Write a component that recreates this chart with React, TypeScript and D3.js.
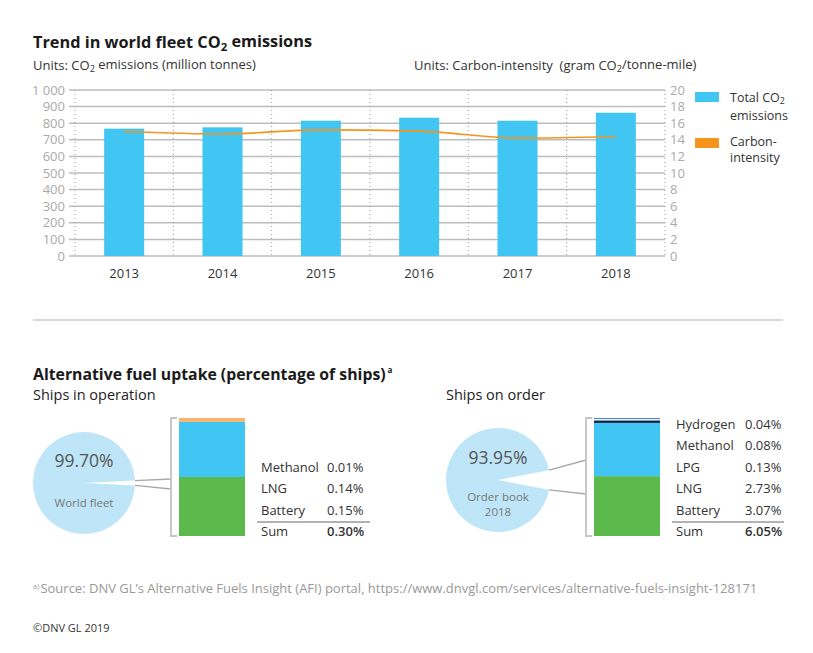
import * as d3 from "d3";

const years = ["2013", "2014", "2015", "2016", "2017", "2018"];
const emissions = [767, 775, 815, 833, 815, 863];
const intensity = [15.0, 14.7, 15.2, 15.05, 14.2, 14.4];
const leftTicks = [0, 100, 200, 300, 400, 500, 600, 700, 800, 900, 1000];
const rightTicks = [0, 2, 4, 6, 8, 10, 12, 14, 16, 18, 20];

const opFuels = ["Methanol", "LNG", "Battery"];
const opShares = [0.01, 0.14, 0.15];
const opColors = ["#f9b46e", "#41c5f2", "#5cb94c"];
const opWorld = 99.7;

const orderFuels = ["Hydrogen", "Methanol", "LPG", "LNG", "Battery"];
const orderShares = [0.04, 0.08, 0.13, 2.73, 3.07];
const orderColors = ["#1b63b5", "#eef6fb", "#0e1f4c", "#41c5f2", "#5cb94c"];
const orderBook = 93.95;

const FONT = "'Open Sans', Lato, sans-serif";
const BLUE = "#41c5f2";
const ORANGE = "#f7941d";
const PIE = "#bfe6f8";
const GRID = "#bdbdbd";

const fmt = d3.formatLocale({ decimal: ".", thousands: " ", grouping: [3], currency: ["", ""] }).format(",d");

function Sub({ children }: { children: string }) {
  return (
    <tspan fontSize="0.7em" dy="0.25em">
      {children}
    </tspan>
  );
}

type PanelProps = {
  cx: number;
  cy: number;
  r: number;
  main: number;
  mainLabel: string[];
  fuels: string[];
  shares: number[];
  colors: string[];
  barX: number;
  valueX: number;
  lineEnd: number;
  attach: [number, number];
  minGap: number;
};

function FuelPanel({ cx, cy, r, main, mainLabel, fuels, shares, colors, barX, valueX, lineEnd, attach, minGap }: PanelProps) {
  const total = d3.sum(shares);
  const barTop = 418;
  const barBottom = 536;
  const barW = 66;
  const ys = d3.scaleLinear().domain([0, total]).range([barBottom, barTop]);

  // pie: the alternative-fuel share is the gap, centred to the right
  const gapShare = Math.max((100 - main) / 100, minGap);
  const half = gapShare * Math.PI;
  const arc = d3.arc<any>().innerRadius(0).outerRadius(r);
  const slice = d3
    .pie<number>()
    .sort(null)
    .startAngle(Math.PI / 2 + half)
    .endAngle(Math.PI / 2 + 2 * Math.PI - half)([main])[0];

  const ex = cx + r * Math.cos(half);
  const eyTop = cy - r * Math.sin(half);
  const eyBot = cy + r * Math.sin(half);
  const bx = barX - 8;

  // stacked from the bottom: last fuel first
  let acc = 0;
  const segs = fuels
    .map((f, i) => ({ f, v: shares[i], c: colors[i] }))
    .reverse()
    .map((s) => {
      const y0 = acc;
      acc += s.v;
      return { ...s, y0, y1: acc };
    });

  const labelX = barX + barW + 16;
  const rowH = 21.5;
  const rows = [...fuels.map((f, i) => ({ f, v: shares[i] })), { f: "Sum", v: total }];

  return (
    <g>
      <path d={arc(slice) || ""} transform={`translate(${cx},${cy})`} fill={PIE} />
      <text x={cx} y={cy - 16} textAnchor="middle" fontSize={17.5} fill="#555">
        {main.toFixed(2)}%
      </text>
      <text x={cx} y={cy + (mainLabel.length > 1 ? 21 : 24)} textAnchor="middle" fontSize={11.5} fill="#777">
        {mainLabel.map((t, i) => (
          <tspan key={t} x={cx} dy={i === 0 ? 0 : 15}>
            {t}
          </tspan>
        ))}
      </text>
      <g stroke="#a8a8a8" strokeWidth={1.3} fill="none">
        <line x1={ex} y1={eyTop} x2={bx} y2={attach[0]} />
        <line x1={ex} y1={eyBot} x2={bx} y2={attach[1]} />
        <path d={`M${barX - 2},${barTop}H${bx}V${barBottom}H${barX - 2}`} stroke="#c4c4c4" strokeWidth={1.8} />
      </g>
      {segs.map((s) => (
        <rect key={s.f} x={barX} width={barW} y={ys(s.y1)} height={ys(s.y0) - ys(s.y1)} fill={s.c} />
      ))}
      {rows.map((row, i) => {
        const y = barBottom - (rows.length - 1 - i) * rowH;
        const isSum = row.f === "Sum";
        return (
          <g key={row.f} fontSize={13} fill="#333">
            <text x={labelX} y={y}>
              {row.f}
            </text>
            <text x={valueX} y={y} fontWeight={isSum ? 600 : 400}>
              {row.v.toFixed(2)}%
            </text>
          </g>
        );
      })}
      <line x1={labelX - 4} x2={lineEnd} y1={barBottom - 14} y2={barBottom - 14} stroke="#999" strokeWidth={1.5} />
    </g>
  );
}

export default function App() {
  const W = 813;
  const H = 653;
  const x = d3.scaleBand().domain(years).range([75, 665]).paddingInner(0.593).paddingOuter(0.2965);
  const yL = d3.scaleLinear().domain([0, 1000]).range([256, 90]);
  const yR = d3.scaleLinear().domain([0, 20]).range([256, 90]);
  const step = x.step();
  const [x0, x1] = x.range();
  const line = d3
    .line<number>()
    .x((_, i) => (x(years[i]) ?? 0) + x.bandwidth() / 2)
    .y((d) => yR(d))
    .curve(d3.curveMonotoneX);

  return (
    <svg width={W} height={H} style={{ position: "absolute", left: 0, top: 0 }} fontFamily={FONT}>
      <rect width={W} height={H} fill="#fff" />
      <text x={33} y={48} fontSize={16.3} fontWeight={700} fill="#1a1a1a">
        Trend in world fleet CO<Sub>2</Sub>
        <tspan dy="-0.25em"> emissions</tspan>
      </text>
      <text x={33} y={70} fontSize={13} fill="#333">
        Units: CO<Sub>2</Sub>
        <tspan dy="-0.25em"> emissions (million tonnes)</tspan>
      </text>
      <text x={414} y={70} fontSize={13} fill="#333">
        Units: Carbon-intensity{"\u00a0"} (gram CO<Sub>2</Sub>
        <tspan dy="-0.25em">/tonne-mile)</tspan>
      </text>

      {/* grid */}
      {leftTicks.map((t) => (
        <line key={t} x1={69} x2={x1} y1={yL(t)} y2={yL(t)} stroke={GRID} strokeWidth={1.5} />
      ))}
      {d3.range(years.length + 1).map((i) => (
        <line key={i} x1={x0 + i * step} x2={x0 + i * step} y1={yL(1000)} y2={yL(0)} stroke="#999" strokeWidth={1} strokeDasharray="1 3" />
      ))}
      {leftTicks.map((t) => (
        <text key={t} x={65} y={yL(t)} dy="0.36em" textAnchor="end" fontSize={13} fill="#aaa">
          {fmt(t)}
        </text>
      ))}
      {rightTicks.map((t) => (
        <text key={t} x={670} y={yR(t)} dy="0.36em" fontSize={13} fill="#aaa">
          {t}
        </text>
      ))}

      {emissions.map((v, i) => (
        <rect key={years[i]} x={x(years[i])} width={x.bandwidth()} y={yL(v)} height={yL(0) - yL(v)} fill={BLUE} />
      ))}
      <path d={line(intensity) || ""} fill="none" stroke={ORANGE} strokeWidth={1.6} />
      {years.map((yr) => (
        <text key={yr} x={(x(yr) ?? 0) + x.bandwidth() / 2} y={278} textAnchor="middle" fontSize={13} fill="#333">
          {yr}
        </text>
      ))}

      {/* legend */}
      <rect x={695} y={92} width={24} height={10} fill={BLUE} />
      <text x={730} y={102} fontSize={12.5} fill="#333">
        Total CO<Sub>2</Sub>
        <tspan x={730} dy={15.5}>
          emissions
        </tspan>
      </text>
      <rect x={695} y={138} width={24} height={10} fill={ORANGE} />
      <text x={730} y={146} fontSize={12.5} fill="#333">
        Carbon-
        <tspan x={730} dy={16}>
          intensity
        </tspan>
      </text>

      <line x1={33} x2={783} y1={320} y2={320} stroke="#ccc" strokeWidth={1.5} />

      <text x={33} y={380} fontSize={15.8} fontWeight={700} fill="#1a1a1a">
        Alternative fuel uptake (percentage of ships)
        <tspan fontSize={8} dy="-0.9em" dx={2}>
          a
        </tspan>
      </text>
      <text x={33} y={400} fontSize={14.5} fill="#222">
        Ships in operation
      </text>
      <text x={446} y={400} fontSize={14.5} fill="#222">
        Ships on order
      </text>

      <FuelPanel
        cx={84}
        cy={483}
        r={51}
        main={opWorld}
        mainLabel={["World fleet"]}
        fuels={opFuels}
        shares={opShares}
        colors={opColors}
        barX={179}
        valueX={327}
        lineEnd={370}
        attach={[479, 489]}
        minGap={0.015}
      />
      <FuelPanel
        cx={498}
        cy={480}
        r={52}
        main={orderBook}
        mainLabel={["Order book", "2018"]}
        fuels={orderFuels}
        shares={orderShares}
        colors={orderColors}
        barX={594}
        valueX={745}
        lineEnd={784}
        attach={[460, 494]}
        minGap={0}
      />

      <text x={33} y={593} fontSize={13} fill="#999">
        <tspan fontSize={7.5} dy="-0.55em">
          a)
        </tspan>
        <tspan dy="0.32em" dx={1}>
          Source: DNV GL’s Alternative Fuels Insight (AFI) portal, https://www.dnvgl.com/services/alternative-fuels-insight-128171
        </tspan>
      </text>
      <text x={33} y={632} fontSize={11} fill="#333">
        ©DNV GL 2019
      </text>
    </svg>
  );
}
